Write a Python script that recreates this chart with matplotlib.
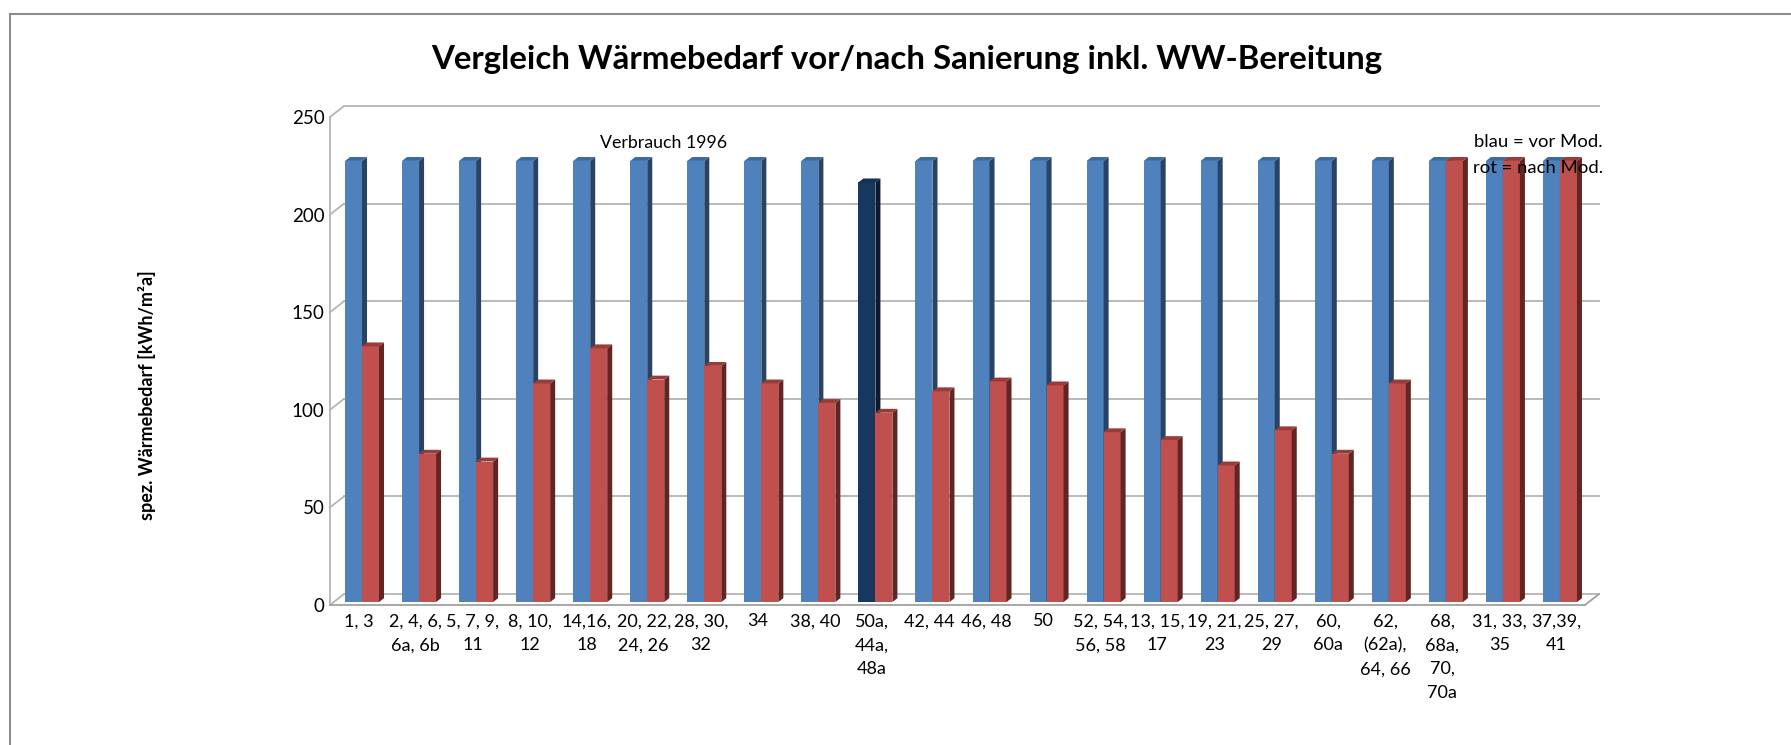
import matplotlib.pyplot as plt
from matplotlib.patches import Polygon
from matplotlib.lines import Line2D

plt.rcParams['font.family'] = ['Lato', 'DejaVu Sans']

categories = [
    "1, 3", "2, 4, 6,\n6a, 6b", "5, 7, 9,\n11", "8, 10,\n12", "14,16,\n18",
    "20, 22,\n24, 26", "28, 30,\n32", "34", "38, 40", "50a,\n44a,\n48a",
    "42, 44", "46, 48", "50", "52, 54,\n56, 58", "13, 15,\n17", "19, 21,\n23",
    "25, 27,\n29", "60,\n60a", "62,\n(62a),\n64, 66", "68,\n68a,\n70,\n70a",
    "31, 33,\n35", "37,39,\n41",
]
vor_mod = [226, 226, 226, 226, 226, 226, 226, 226, 226, 215, 226,
           226, 226, 226, 226, 226, 226, 226, 226, 226, 226, 226]
nach_mod = [131, 76, 72, 112, 130, 114, 121, 112, 102, 97, 108,
            113, 111, 87, 83, 70, 88, 76, 112, 226, 226, 226]
verbrauch_1996 = [False] * 9 + [True] + [False] * 12

W, H = 1791, 745
fig = plt.figure(figsize=(W / 100, H / 100), dpi=100)
fig.patch.set_facecolor('white')

# outer chart frame (top and left edge only visible)
fig.add_artist(Line2D([10 / W, 1], [1 - 14 / H, 1 - 14 / H], color='#8c8c8c', lw=1.5))
fig.add_artist(Line2D([10 / W, 10 / W], [1 - 14 / H, 0], color='#8c8c8c', lw=1.5))

ax = fig.add_axes([330 / W, 1 - 605 / H, (1585 - 330) / W, (605 - 117) / H])
ax.set_xlim(0, len(categories))
ax.set_ylim(0, 250)
for s in ax.spines.values():
    s.set_visible(False)
ax.patch.set_alpha(0)

# pseudo 3d offsets (category units / value units)
dx, dy = 0.245, 5.6
bdx, bdy = 0.088, 2.0
base = 1.5
bw = 0.298
grid_col = '#b4b4b4'
n = len(categories)

# back wall gridlines and side wall
for v in range(0, 251, 50):
    ax.plot([dx, n + dx], [v + dy, v + dy], color=grid_col, lw=1.3, clip_on=False, zorder=1)
    ax.plot([0, dx], [v, v + dy], color=grid_col, lw=1.3, clip_on=False, zorder=1)
ax.plot([0, 0], [0, 250], color=grid_col, lw=1.3, clip_on=False, zorder=1)
ax.plot([0, n], [0, 0], color='#a0a0a0', lw=1.3, clip_on=False, zorder=1)
ax.plot([n, n + dx], [0, dy], color='#a0a0a0', lw=1.3, clip_on=False, zorder=1)


def bar3d(x0, val, front, side, top, z):
    ax.bar(x0, val, bottom=base, width=bw, align='edge', color=front, lw=0, zorder=z)
    y1 = base + val
    ax.add_patch(Polygon([[x0 + bw, base], [x0 + bw + bdx, base + bdy],
                          [x0 + bw + bdx, y1 + bdy], [x0 + bw, y1]],
                         closed=True, color=side, lw=0, zorder=z))
    ax.add_patch(Polygon([[x0, y1], [x0 + bdx, y1 + bdy],
                          [x0 + bw + bdx, y1 + bdy], [x0 + bw, y1]],
                         closed=True, color=top, lw=0, zorder=z))


for i in range(n):
    if verbrauch_1996[i]:
        bar3d(i + 0.263, vor_mod[i], '#17375e', '#0c1c30', '#12304f', 3 + 2 * i)
    else:
        bar3d(i + 0.263, vor_mod[i], '#4f81bd', '#2a4365', '#3d69a3', 3 + 2 * i)
    bar3d(i + 0.561, nach_mod[i], '#c0504d', '#632523', '#983c39', 4 + 2 * i)

ax.set_yticks(range(0, 251, 50))
ax.set_yticklabels([str(v) for v in range(0, 251, 50)], fontsize=13.5)
ax.set_xticks([i + 0.5 for i in range(n)])
ax.set_xticklabels(categories, fontsize=13, linespacing=1.6, va='top')
ax.tick_params(axis='both', length=0, colors='black')
ax.tick_params(axis='y', pad=4)
ax.tick_params(axis='x', pad=6)

fig.text(907 / W, 1 - 59 / H, "Vergleich Wärmebedarf vor/nach Sanierung inkl. WW-Bereitung",
         ha='center', va='center', fontsize=23.8, fontweight='bold')
fig.text(147 / W, 1 - 395 / H, "spez. Wärmebedarf [kWh/m²a]", rotation=90,
         ha='center', va='center', fontsize=13, fontweight='bold')
fig.text(664 / W, 1 - 143 / H, "Verbrauch 1996", ha='center', va='center', fontsize=12.8)
fig.text(1603 / W, 1 - 142 / H, "blau = vor Mod.", ha='right', va='center', fontsize=13.3, zorder=60)
fig.text(1603 / W, 1 - 168 / H, "rot = nach Mod.", ha='right', va='center', fontsize=13.3, zorder=60)

fig.savefig("out.png", dpi=100, facecolor='white')
